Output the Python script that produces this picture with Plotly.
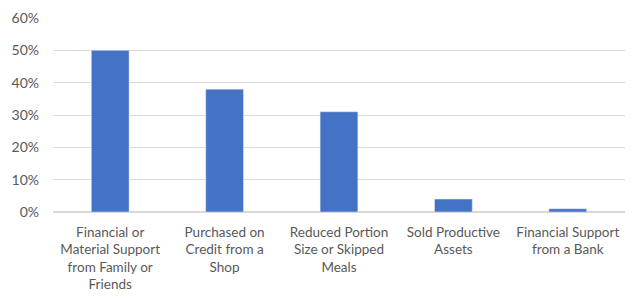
import plotly.graph_objects as go

categories = [
    "Financial or<br>Material Support<br>from Family or<br>Friends",
    "Purchased on<br>Credit from a<br>Shop",
    "Reduced Portion<br>Size or Skipped<br>Meals",
    "Sold Productive<br>Assets",
    "Financial Support<br>from a Bank",
]
values = [0.50, 0.38, 0.31, 0.04, 0.01]

fig = go.Figure(go.Bar(x=categories, y=values, marker_color="#4472C4", width=0.33))
fig.update_layout(
    width=638, height=300,
    margin=dict(l=53, r=13, t=18, b=88),
    plot_bgcolor="white", paper_bgcolor="white",
    font=dict(family="Lato, sans-serif", size=13.5, color="#595959"),
    showlegend=False,
)
fig.update_yaxes(range=[0, 0.6], tickformat=".0%", dtick=0.1, gridcolor="#D9D9D9",
                 zeroline=True, zerolinecolor="#D9D9D9", ticks="", ticklabelstandoff=13,
                 automargin=False, tickfont=dict(size=14))
fig.update_xaxes(showgrid=False, ticks="", tickangle=0, automargin=False, ticklabelstandoff=10)
fig.write_html("out.html", config={"displayModeBar": False},
               post_script="document.body.style.margin='0';document.body.style.padding='0';")
